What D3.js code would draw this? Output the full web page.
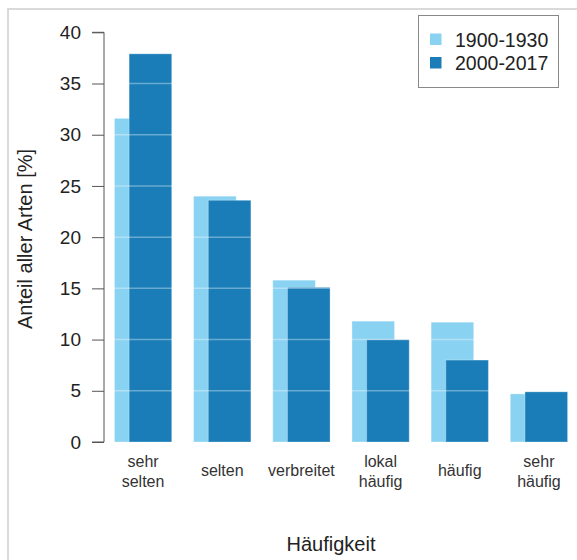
<!DOCTYPE html>
<html>
<head>
<meta charset="utf-8">
<script src="https://cdn.jsdelivr.net/npm/d3@7"></script>
<style>
  body { margin: 0; background: #fff; }
  text { font-family: "Liberation Sans", Arial, sans-serif; }
</style>
</head>
<body>
<div id="chart"></div>
<script>
const categories = [["sehr", "selten"], ["selten"], ["verbreitet"], ["lokal", "häufig"], ["häufig"], ["sehr", "häufig"]]
const series = ["1900-1930", "2000-2017"]
const early = [31.6, 24.0, 15.8, 11.8, 11.7, 4.7]
const recent = [37.9, 23.6, 15.1, 10.0, 8.0, 4.9]
const yTicks = [0, 5, 10, 15, 20, 25, 30, 35, 40]
const colors = ["#89d2f1", "#1a7db8"]

const width = 577
const height = 560

const svg = d3.select("#chart")
  .append("svg")
  .attr("width", width)
  .attr("height", height)

// outer frame (only top and left edges visible)
svg.append("rect")
  .attr("x", 8).attr("y", 9)
  .attr("width", 600).attr("height", 600)
  .attr("fill", "none")
  .attr("stroke", "#d9d9d9")
  .attr("stroke-width", 2)

const y = d3.scaleLinear().domain([0, 40]).range([442, 32.3])

const x = d3.scaleBand()
  .domain(d3.range(categories.length))
  .range([101.5, 580.5])
  .paddingInner(0.25)
  .paddingOuter(0.15)

const barW = 42.6
const shift = 14.7

const groups = svg.selectAll(".grp")
  .data(categories.map((c, i) => ({ c, i, a: early[i], b: recent[i] })))
  .enter().append("g")
  .attr("class", "grp")

groups.append("rect")
  .attr("x", d => x(d.i) + (x.bandwidth() - barW - shift) / 2)
  .attr("y", d => y(d.a))
  .attr("width", barW)
  .attr("height", d => y(0) - y(d.a))
  .attr("fill", colors[0])
  .attr("stroke", "rgba(255,255,255,0.35)")
  .attr("stroke-width", 1)

groups.append("rect")
  .attr("x", d => x(d.i) + (x.bandwidth() - barW - shift) / 2 + shift)
  .attr("y", d => y(d.b))
  .attr("width", barW)
  .attr("height", d => y(0) - y(d.b))
  .attr("fill", colors[1])
  .attr("stroke", "rgba(255,255,255,0.3)")
  .attr("stroke-width", 1)

// white lines over the bars
svg.selectAll(".grid")
  .data(yTicks.filter(t => t > 0))
  .enter().append("line")
  .attr("x1", 105).attr("x2", 575)
  .attr("y1", d => y(d)).attr("y2", d => y(d))
  .attr("stroke", "rgba(255,255,255,0.35)")
  .attr("stroke-width", 1.5)

// y axis
const yAxis = svg.append("g")
  .attr("transform", "translate(104,0)")
  .call(d3.axisLeft(y).tickValues(yTicks).tickSize(12).tickPadding(11))
yAxis.select(".domain").attr("stroke", "#555").attr("d", `M-12,${y(40)}H0V${y(0)}H-12`)
yAxis.selectAll(".tick line").attr("stroke", "#555")
yAxis.selectAll(".tick text")
  .attr("font-size", 19)
  .attr("fill", "#222")
  .attr("font-family", "Liberation Sans, Arial, sans-serif")

// category labels
groups.each(function (d) {
  const g = d3.select(this)
  const cx = x(d.i) + x.bandwidth() / 2
  const lines = d.c
  const y0 = lines.length === 2 ? 467 : 476
  lines.forEach((t, k) => {
    g.append("text")
      .attr("x", cx)
      .attr("y", y0 + k * 19.5)
      .attr("text-anchor", "middle")
      .attr("font-size", 16)
      .attr("fill", "#333")
      .text(t)
  })
})

// axis titles
svg.append("text")
  .attr("x", 331).attr("y", 551)
  .attr("text-anchor", "middle")
  .attr("font-size", 20)
  .attr("fill", "#222")
  .text("Häufigkeit")

svg.append("text")
  .attr("transform", "translate(32,239) rotate(-90)")
  .attr("text-anchor", "middle")
  .attr("font-size", 20)
  .attr("fill", "#222")
  .text("Anteil aller Arten [%]")

// legend
const legend = svg.append("g")
legend.append("rect")
  .attr("x", 418.5).attr("y", 15.5)
  .attr("width", 140).attr("height", 72)
  .attr("fill", "#fff")
  .attr("stroke", "#888")
  .attr("stroke-width", 1)

series.forEach((s, i) => {
  legend.append("rect")
    .attr("x", 430).attr("y", 33.5 + i * 23.5)
    .attr("width", 11.5).attr("height", 11.5)
    .attr("fill", colors[i])
  legend.append("text")
    .attr("x", 455).attr("y", 47 + i * 22.5)
    .attr("font-size", 19.5)
    .attr("fill", "#222")
    .text(s)
})
</script>
</body>
</html>
